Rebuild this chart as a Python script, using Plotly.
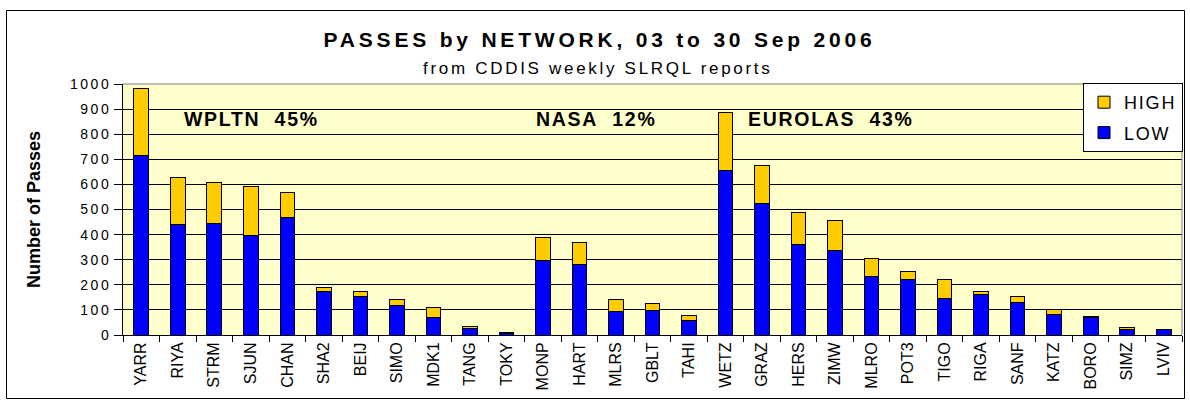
import plotly.graph_objects as go

# Stations in network order (WPLTN, NASA, EUROLAS)
stations = ["YARR", "RIYA", "STRM", "SJUN", "CHAN", "SHA2", "BEIJ", "SIMO", "MDK1",
            "TANG", "TOKY", "MONP", "HART", "MLRS", "GBLT", "TAHI", "WETZ", "GRAZ",
            "HERS", "ZIMW", "MLRO", "POT3", "TIGO", "RIGA", "SANF", "KATZ", "BORO",
            "SIMZ", "LVIV"]

# Passes on low satellites (bottom segment)
low_passes = [716, 439, 446, 397, 469, 172, 155, 117, 69, 27, 5, 298, 281, 93, 98,
              57, 656, 524, 361, 337, 232, 221, 147, 160, 130, 82, 69, 21, 22]

# Passes on high satellites (top segment)
high_passes = [268, 188, 163, 193, 97, 19, 19, 26, 42, 7, 6, 92, 88, 50, 27,
               19, 231, 151, 127, 121, 74, 32, 74, 12, 24, 19, 5, 7, 1]

y_tick_values = [0, 100, 200, 300, 400, 500, 600, 700, 800, 900, 1000]
y_tick_labels = ["0", "100", "200", "300", "400", "500", "600", "700", "800", "900", "1000"]

network_labels = ["WPLTN\u00a0\u00a045%", "NASA\u00a0\u00a012%", "EUROLAS\u00a0\u00a043%"]

title_text = "PASSES by NETWORK, 03 to 30 Sep 2006"
subtitle_text = "from CDDIS weekly SLRQL reports"
y_title = "Number of Passes"

FONT = "Liberation Sans, Arial, Helvetica, sans-serif"


def spaced(text, px):
    """Wrap text in a span with extra letter spacing."""
    return f'<span style="letter-spacing:{px}px">{text}</span>'


outline = dict(color="#000000", width=1)

fig = go.Figure()
fig.add_trace(go.Bar(
    x=stations, y=low_passes, name=spaced("LOW", 1.8),
    marker=dict(color="#0000FF", line=outline),
    legendgroup="low", legendrank=2,
))
fig.add_trace(go.Bar(
    x=stations, y=high_passes, name=spaced("HIGH", 1.8),
    marker=dict(color="#FFCC00", line=outline),
    legendgroup="high", legendrank=1,
))

fig.update_layout(
    width=1190, height=406,
    margin=dict(l=123, r=8, t=84, b=71, autoexpand=False),
    paper_bgcolor="#FFFFFF",
    plot_bgcolor="#FFFFCC",
    barmode="stack",
    bargap=0.6,
    font=dict(family=FONT, color="#000000"),
    title=dict(
        text=spaced(title_text, 3.8),
        font=dict(family=FONT, size=21, weight=700, color="#000000"),
        x=0.5038, xanchor="center", xref="container",
        y=1 - 39.5 / 406, yanchor="middle", yref="container",
    ),
    legend=dict(
        x=(1083 - 123) / 1059, y=1.004, xanchor="left", yanchor="top",
        bgcolor="#FFFFFF", bordercolor="#000000", borderwidth=1,
        font=dict(family=FONT, size=18, color="#000000"),
        traceorder="grouped", tracegroupgap=4,
    ),
    xaxis=dict(
        type="category",
        showline=True, linecolor="#000000", linewidth=1,
        ticks="outside", tickson="boundaries", ticklen=6, tickcolor="#000000",
        tickangle=-90,
        tickfont=dict(family=FONT, size=16, color="#000000"),
        showgrid=False,
    ),
    yaxis=dict(
        range=[0, 1000],
        tickvals=y_tick_values,
        ticktext=[spaced(t, 2.5) for t in y_tick_labels],
        tickfont=dict(family=FONT, size=14, color="#000000"),
        ticks="outside", ticklen=8, tickcolor="#000000",
        showline=True, linecolor="#000000", linewidth=1,
        showgrid=True, gridcolor="#000000", gridwidth=1,
        zeroline=False,
        title=dict(
            text=y_title, standoff=24,
            font=dict(family=FONT, size=18, weight=700, color="#000000"),
        ),
    ),
    showlegend=True,
)

# Subtitle line under the main title
fig.add_annotation(
    text=spaced(subtitle_text, 2.7),
    xref="paper", yref="paper", x=0.4483, y=1.0606,
    xanchor="center", yanchor="middle", showarrow=False,
    font=dict(family=FONT, size=17, color="#000000"),
)

# Network share labels inside the plot
label_x = [0.1209, 0.4467, 0.6683]
for txt, lx in zip(network_labels, label_x):
    fig.add_annotation(
        text=spaced(txt, 1.7),
        xref="paper", yref="y", x=lx, y=860,
        xanchor="center", yanchor="middle", showarrow=False,
        font=dict(family=FONT, size=19.5, weight=700, color="#000000"),
    )

# Outer chart frame
fig.add_shape(
    type="rect", xref="paper", yref="paper",
    x0=(6.5 - 123) / 1059, x1=(1184.5 - 123) / 1059,
    y0=(335 - 398.5) / 251, y1=(335 - 10.5) / 251,
    line=dict(color="#000000", width=1), fillcolor="rgba(0,0,0,0)", layer="above",
)
# Grey plot-area edges on top and right
fig.add_shape(type="line", xref="paper", yref="paper", x0=0, x1=1, y0=1, y1=1,
              line=dict(color="#808080", width=1), layer="above")
fig.add_shape(type="line", xref="paper", yref="paper", x0=1, x1=1, y0=0, y1=1,
              line=dict(color="#808080", width=1), layer="above")

fig.write_html("out.html", config={"displayModeBar": False})
